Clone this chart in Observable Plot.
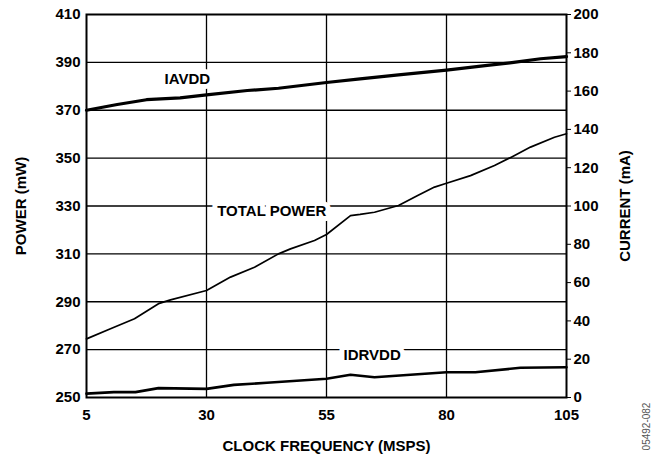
<!DOCTYPE html>
<html>
<head>
<meta charset="utf-8">
<script src="https://cdn.jsdelivr.net/npm/d3@7"></script>
<script src="https://cdn.jsdelivr.net/npm/@observablehq/plot@0.6"></script>
<style>
  html, body { margin: 0; padding: 0; background: #fff; }
  svg { display: block; }
</style>
</head>
<body>
<div id="chart"></div>
<script>
// Total power (mW, left axis) vs clock frequency (MSPS)
const powerFreq = [5, 10, 15, 20, 22.5, 30, 35, 40, 45, 47.5, 52.5, 55, 60, 62, 65, 70, 74, 77.5, 80, 85, 90, 93.5, 97.5, 102.5, 105];
const powerMW   = [274.5, 278.7, 282.9, 289.2, 290.8, 294.7, 300.3, 304.4, 310, 312.1, 315.6, 318.1, 326, 326.5, 327.4, 330.2, 334.4, 337.9, 339.5, 342.7, 346.9, 350.4, 354.6, 358.7, 360.2];

// IAVDD current (mA, right axis)
const iavddFreq = [5, 11.4, 17.5, 24.5, 30, 38.5, 45, 55, 62, 70, 80, 88.5, 94, 99.6, 105];
const iavddMA   = [150, 153, 155.5, 156.5, 158, 160.3, 161.5, 164.5, 166.4, 168.5, 171, 173.4, 175, 176.9, 178];

// IDRVDD current (mA, right axis)
const idrvddFreq = [5, 10.7, 15.2, 20, 30, 35.7, 42.6, 55, 60, 65, 80, 86, 95.4, 105];
const idrvddMA   = [2, 2.8, 2.8, 4.9, 4.5, 6.6, 7.7, 9.8, 11.9, 10.6, 13.2, 13.2, 15.5, 15.8];

const xTicks = [5, 30, 55, 80, 105];
const powerTicks = [250, 270, 290, 310, 330, 350, 370, 390, 410];
const currentTicks = [0, 20, 40, 60, 80, 100, 120, 140, 160, 180, 200];

const labelText = ["IAVDD", "TOTAL POWER", "IDRVDD"];
const labelFreq = [26, 43.6, 64.5];
const labelPower = [383.1, 327.7, 267.6];

// current (mA) shares the plot with power: 0..200 mA spans 250..410 mW
const mAtoMW = (ma) => 250 + ma * (160 / 200);
const mWtoMA = (mw) => (mw - 250) * (200 / 160);

const power = powerFreq.map((f, i) => ({f, v: powerMW[i]}));
const iavdd = iavddFreq.map((f, i) => ({f, v: mAtoMW(iavddMA[i])}));
const idrvdd = idrvddFreq.map((f, i) => ({f, v: mAtoMW(idrvddMA[i])}));
const labels = labelText.map((t, i) => ({t, f: labelFreq[i], v: labelPower[i]}));

const font = "Liberation Sans, Arial, Helvetica, sans-serif";

const chart = Plot.plot({
  width: 654,
  height: 455,
  marginLeft: 86,
  marginRight: 88,
  marginTop: 14,
  marginBottom: 58,
  style: {fontFamily: font, fontSize: "15px", fontWeight: "bold", color: "#000", background: "#fff"},
  x: {domain: [5, 105]},
  y: {domain: [250, 410]},
  marks: [
    Plot.gridY(powerTicks.slice(1, -1), {stroke: "#000", strokeOpacity: 1, strokeWidth: 1.3}),
    Plot.gridX(xTicks.slice(1, -1), {stroke: "#000", strokeOpacity: 1, strokeWidth: 1.3}),
    Plot.text(labels, {x: "f", y: "v", text: "t", fill: "#000", stroke: "#fff", strokeWidth: 10, fontSize: 15, fontWeight: "bold", style: "letter-spacing:0.4px"}),
    Plot.line(power, {x: "f", y: "v", stroke: "#000", strokeWidth: 1.7}),
    Plot.line(iavdd, {x: "f", y: "v", stroke: "#000", strokeWidth: 3.2}),
    Plot.line(idrvdd, {x: "f", y: "v", stroke: "#000", strokeWidth: 2.6}),
    Plot.frame({stroke: "#000", strokeWidth: 2}),
    Plot.axisY({ticks: powerTicks, tickSize: 0, tickPadding: 6, label: null, fontSize: 15, fontWeight: "bold"}),
    Plot.axisY({anchor: "right", ticks: currentTicks.map(mAtoMW), tickFormat: (d) => String(Math.round(mWtoMA(d))), tickSize: 4, tickPadding: 3, label: null, fontSize: 15, fontWeight: "bold"}),
    Plot.axisX({ticks: xTicks, tickSize: 0, tickPadding: 12, label: null, fontSize: 15, fontWeight: "bold"}),
    Plot.text(["POWER (mW)"], {frameAnchor: "left", rotate: -90, dx: -65, textAnchor: "middle", lineAnchor: "middle", fontSize: 15, fontWeight: "bold", fill: "#000"}),
    Plot.text(["CURRENT (mA)"], {frameAnchor: "right", rotate: -90, dx: 59, textAnchor: "middle", lineAnchor: "middle", fontSize: 15, fontWeight: "bold", fill: "#000"}),
    Plot.text(["CLOCK FREQUENCY (MSPS)"], {frameAnchor: "bottom", dy: 49, textAnchor: "middle", lineAnchor: "middle", fontSize: 15, fontWeight: "bold", fill: "#000", style: "letter-spacing:0.6px"}),
    Plot.text(["05492-082"], {frameAnchor: "bottom-right", rotate: -90, dx: 80, dy: 29, textAnchor: "middle", lineAnchor: "middle", fontSize: 10, fontWeight: "normal", fill: "#555"})
  ]
});
document.getElementById("chart").appendChild(chart);
</script>
</body>
</html>
